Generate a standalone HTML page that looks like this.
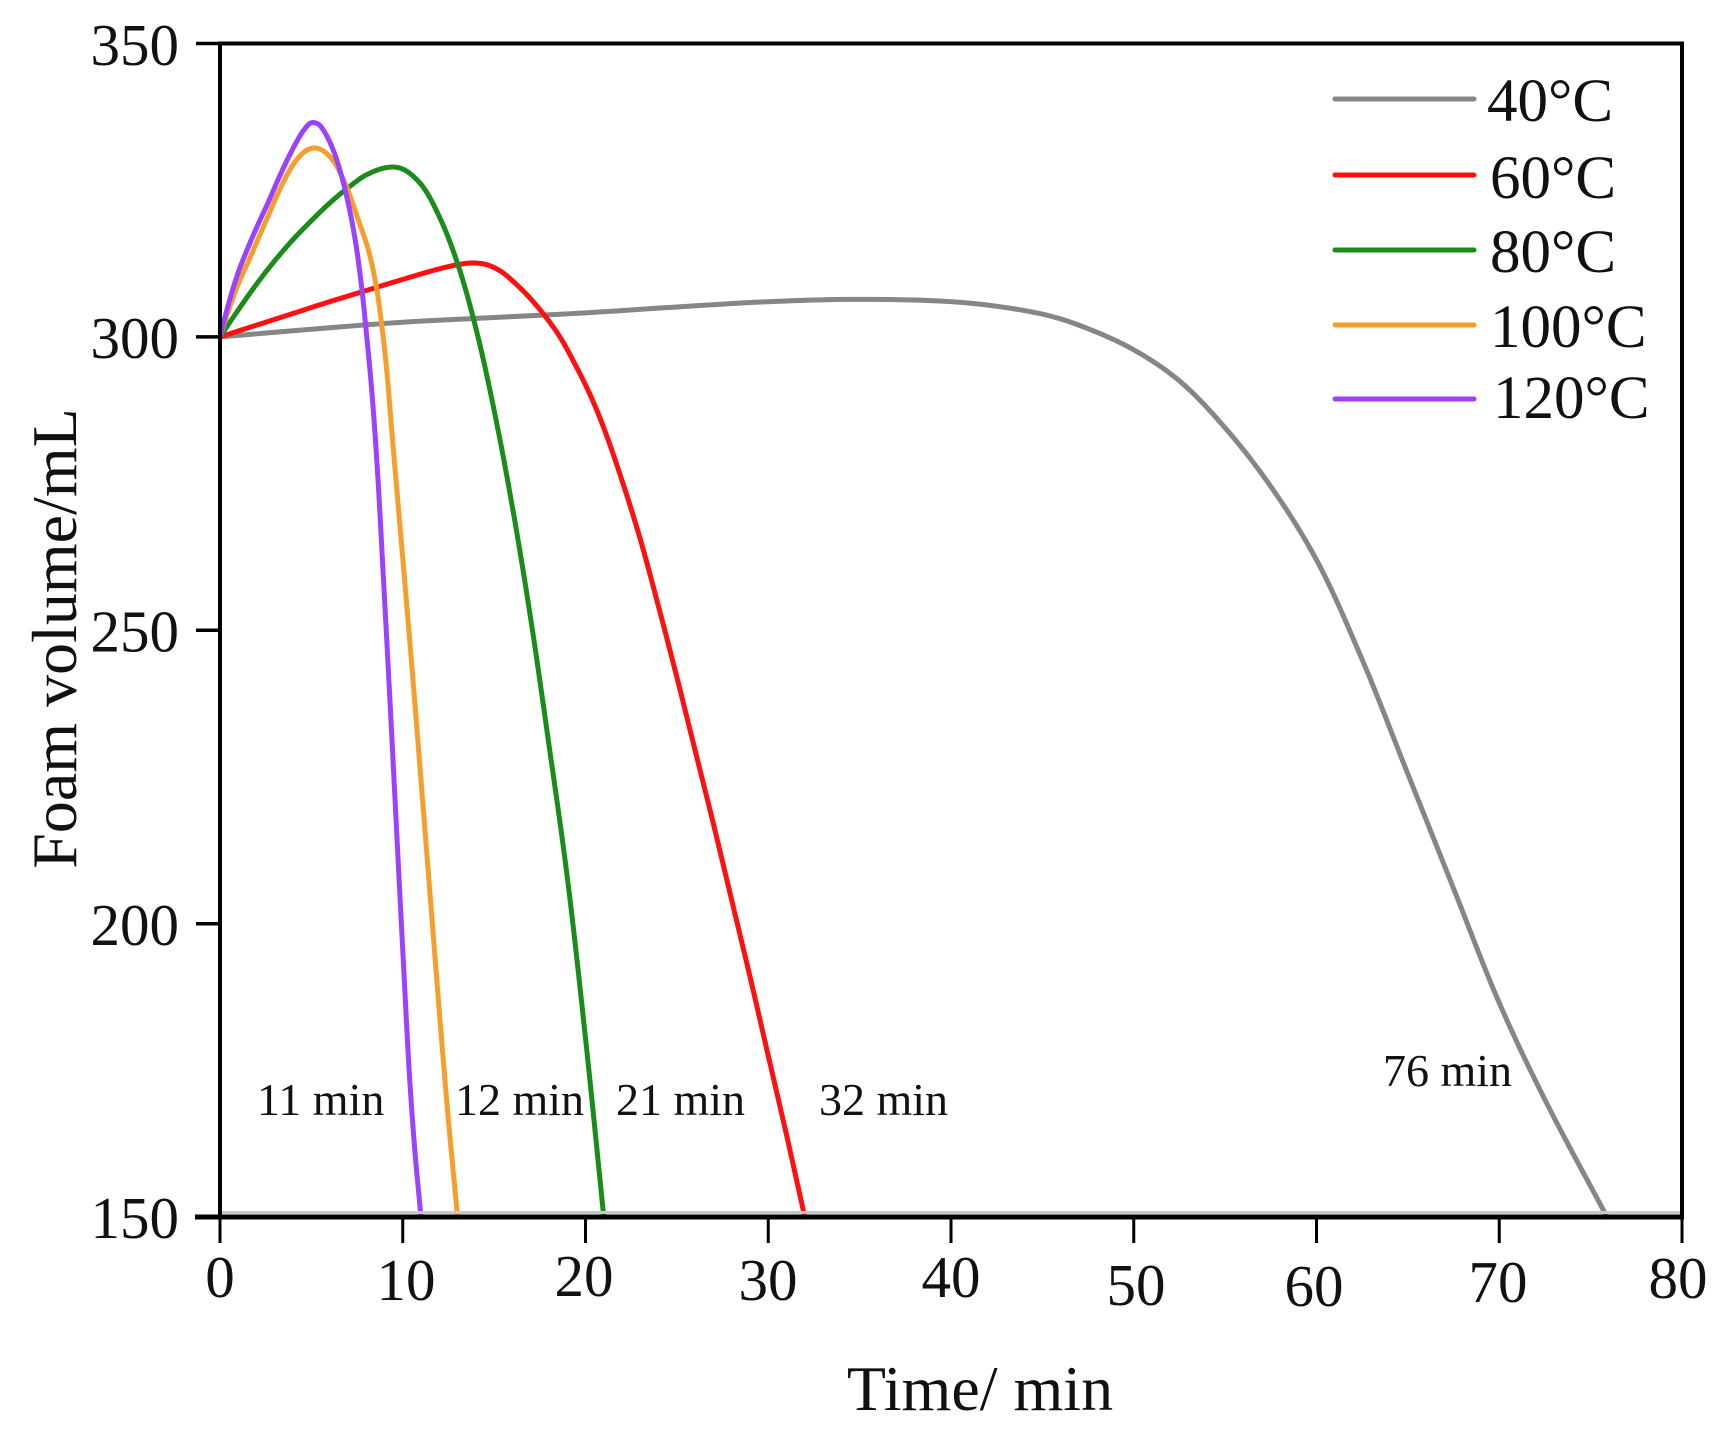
<!DOCTYPE html>
<html>
<head>
<meta charset="utf-8">
<style>
  html,body{margin:0;padding:0;background:#fff;}
  svg{display:block;}
  text{font-family:"Liberation Serif","Times New Roman",serif;fill:#111;}
</style>
</head>
<body>
<svg width="1716" height="1435" viewBox="0 0 1716 1435" xmlns="http://www.w3.org/2000/svg">
  <rect x="0" y="0" width="1716" height="1435" fill="#fff"/>

  <!-- series -->
  <g fill="none" stroke-width="5" stroke-linejoin="round" stroke-linecap="round">
    <polyline id="s40" stroke="#868686" points="220,336.9 300.4,329.9 366.2,324 439.3,319.3 499.6,316.9 640.3,309.9 750,301.7 859.6,299.3 963.8,302.9 1005.8,307.6 1051.5,316.4 1088.1,328.7 1133.8,351.6 1174,380.9 1237.9,442.5 1281.8,504.7 1325.6,578.7 1367.7,676.7 1411.5,786.4 1455.4,897.3 1486.4,980 1534,1079.8 1607.5,1217"/>
    <polyline id="s60" stroke="#ff1010" points="220,336.9 300,311.7 375.3,288.2 440,266.5 472.2,263 490.5,266.5 514.2,285.8 549,314 598.3,403.8 634.8,517.6 655,600 690,725 720,850 750,975 778.3,1100 805,1217"/>
    <polyline id="s80" stroke="#1a8c1a" points="220,336.9 267.9,269.4 302.2,228.3 344.3,186.7 366.2,171.4 388.1,167.3 408.2,176.7 426.5,196.7 440,226.6 474,318.1 499.6,457.2 525.2,600 543.5,725 559.9,850 576.4,975 591,1100 604,1217"/>
    <polyline id="s100" stroke="#f59e2c" points="220,336.9 229.7,307 248.7,261.8 267.9,216.6 287.1,173.2 313.8,148.5 333.3,160 358.3,220 376.7,288.3 386.7,370 406.7,600 426.7,850 446.7,1100 458,1217"/>
    <polyline id="s120" stroke="#9b42ff" points="220,336.9 248.7,250.1 287.1,160.3 311.7,122.7 333.3,150 353.3,230 365,326.7 378,500 396,850 409,1100 420,1217"/>
  </g>

  <!-- axes frame -->
  <g stroke="#000" stroke-width="4" fill="none">
    <line x1="218" y1="43.5" x2="1684" y2="43.5"/>
    <line x1="220" y1="41.5" x2="220" y2="1219"/>
    <line x1="1682" y1="41.5" x2="1682" y2="1219"/>
    <line x1="195" y1="1217" x2="1684" y2="1217" stroke-width="5"/>
  </g>
  <line x1="222" y1="1212.5" x2="1680" y2="1212.5" stroke="#c8c8c8" stroke-width="3"/>

  <!-- y ticks -->
  <g stroke="#000" stroke-width="3.5">
    <line x1="196" y1="43.5" x2="220" y2="43.5"/>
    <line x1="196" y1="336.9" x2="220" y2="336.9"/>
    <line x1="196" y1="630.3" x2="220" y2="630.3"/>
    <line x1="196" y1="923.7" x2="220" y2="923.7"/>
    <line x1="196" y1="1217" x2="220" y2="1217"/>
  </g>
  <!-- x ticks -->
  <g stroke="#000" stroke-width="3">
    <line x1="220" y1="1217" x2="220" y2="1243"/>
    <line x1="402.75" y1="1217" x2="402.75" y2="1243"/>
    <line x1="585.5" y1="1217" x2="585.5" y2="1243"/>
    <line x1="768.25" y1="1217" x2="768.25" y2="1243"/>
    <line x1="951" y1="1217" x2="951" y2="1243"/>
    <line x1="1133.75" y1="1217" x2="1133.75" y2="1243"/>
    <line x1="1316.5" y1="1217" x2="1316.5" y2="1243"/>
    <line x1="1499.25" y1="1217" x2="1499.25" y2="1243"/>
    <line x1="1682" y1="1217" x2="1682" y2="1243"/>
  </g>

  <!-- y tick labels -->
  <g font-size="59" text-anchor="end">
    <text x="179" y="65">350</text>
    <text x="179" y="358">300</text>
    <text x="179" y="651.5">250</text>
    <text x="179" y="945">200</text>
    <text x="179" y="1238">150</text>
  </g>

  <!-- x tick labels -->
  <g font-size="59" text-anchor="middle">
    <text x="220" y="1297">0</text>
    <text x="406" y="1300">10</text>
    <text x="584" y="1296">20</text>
    <text x="768" y="1300">30</text>
    <text x="951" y="1297">40</text>
    <text x="1136" y="1305">50</text>
    <text x="1314" y="1306">60</text>
    <text x="1498" y="1302">70</text>
    <text x="1678" y="1298">80</text>
  </g>

  <!-- axis titles -->
  <text x="980" y="1410" font-size="64" text-anchor="middle">Time/ min</text>
  <text transform="translate(76,638.5) rotate(-90)" font-size="64" text-anchor="middle">Foam volume/mL</text>

  <!-- annotations -->
  <g font-size="46">
    <text x="257" y="1115">11 min</text>
    <text x="455" y="1115">12 min</text>
    <text x="616" y="1115">21 min</text>
    <text x="819" y="1115">32 min</text>
    <text x="1383" y="1086">76 min</text>
  </g>

  <!-- legend -->
  <g stroke-width="5" stroke-linecap="round">
    <line x1="1335" y1="99" x2="1474" y2="99" stroke="#868686"/>
    <line x1="1335" y1="175" x2="1474" y2="175" stroke="#ff1010"/>
    <line x1="1335" y1="250" x2="1474" y2="250" stroke="#1a8c1a"/>
    <line x1="1335" y1="325" x2="1474" y2="325" stroke="#f59e2c"/>
    <line x1="1335" y1="399" x2="1474" y2="399" stroke="#9b42ff"/>
  </g>
  <g font-size="61">
    <text x="1487" y="121">40°C</text>
    <text x="1490" y="198">60°C</text>
    <text x="1490" y="272">80°C</text>
    <text x="1490" y="347">100°C</text>
    <text x="1493" y="418">120°C</text>
  </g>
</svg>
<script>
(function(){
  var data = {
    s40: [[0,300],[5,301.3],[10,302.5],[15,303.3],[20,304.1],[25,305.1],[30,306],[35,306.4],[40,306],[43,305],[45.5,303.5],[47.5,301.4],[50,297.8],[52.5,292.5],[55,284.5],[57.5,274.5],[60,262],[62.5,245],[65,225.5],[67.5,206],[70,186.5],[72.5,170],[75.9,150]],
    s60: [[0,300],[2,302],[4,304],[6,306],[8,307.9],[10,309.8],[12,311.6],[13,312.3],[13.8,312.6],[14.6,312.3],[15.4,311.1],[16.2,309],[17,306.5],[17.8,303.5],[18.6,300],[19.4,295.5],[20.2,290.5],[21,284.5],[22,275.5],[23,265.5],[24,254],[25,242],[26,229.5],[27,217],[28,204],[29,191],[30,177.5],[31,164],[32,150]],
    s80: [[0,300],[1,304.6],[2,309],[3,313],[4,316.6],[5,319.8],[6,322.8],[7,325.4],[8,327.6],[9.2,328.9],[10,328.6],[11,326],[12,320.5],[13,312.5],[14,301.5],[15,287.5],[16,271],[17,252],[18,230.5],[19,208],[20,180.5],[21,150]],
    s100: [[0,300],[0.5,304.8],[1,309],[1.57,313],[2.1,316.8],[2.62,320.5],[3.15,324.3],[3.67,327.6],[4.2,330.2],[4.7,331.7],[5.15,332.2],[5.6,331.8],[6.2,330],[6.8,326.5],[7.2,323.3],[7.57,319.9],[8.12,314.8],[8.57,308.3],[8.85,302],[9.12,294.4],[9.4,284],[9.8,269.5],[10.2,255],[10.6,240],[11.3,212.6],[12.4,170],[13,150]],
    s120: [[0,300],[0.5,306],[1,311],[1.57,315.5],[2.1,319.3],[2.62,322.8],[3.15,326.6],[3.67,330.1],[4.2,333.3],[4.6,335.3],[5.0,336.5],[5.4,336.2],[5.8,334.5],[6.2,331.8],[6.6,328],[7.0,323],[7.4,316.5],[7.75,308.5],[8.0,301],[8.3,291],[8.6,278],[8.94,259],[9.3,238],[9.67,215.5],[10.0,195.5],[10.4,172.5],[10.7,160],[11.0,150]]
  };
  function X(t){return 220+18.275*t;}
  function Y(v){return 43.5+(350-v)*5.868;}
  function tj(ti,a,b){var d=Math.pow(Math.hypot(b[0]-a[0],b[1]-a[1]),0.5);return ti+(d>1e-6?d:1e-3);}
  function lerp(a,b,wa,wb){return [a[0]*wa+b[0]*wb,a[1]*wa+b[1]*wb];}
  function smooth(raw){
    var n=raw.length;
    var pts=[[2*raw[0][0]-raw[1][0],2*raw[0][1]-raw[1][1]]].concat(raw).concat([[2*raw[n-1][0]-raw[n-2][0],2*raw[n-1][1]-raw[n-2][1]]]);
    var out=[raw[0]];
    for(var i=1;i<pts.length-2;i++){
      var P0=pts[i-1],P1=pts[i],P2=pts[i+1],P3=pts[i+2];
      var t0=0,t1=tj(t0,P0,P1),t2=tj(t1,P1,P2),t3=tj(t2,P2,P3);
      var steps=12;
      for(var s=1;s<=steps;s++){
        var t=t1+(t2-t1)*s/steps;
        var A1=lerp(P0,P1,(t1-t)/(t1-t0),(t-t0)/(t1-t0));
        var A2=lerp(P1,P2,(t2-t)/(t2-t1),(t-t1)/(t2-t1));
        var A3=lerp(P2,P3,(t3-t)/(t3-t2),(t-t2)/(t3-t2));
        var B1=lerp(A1,A2,(t2-t)/(t2-t0),(t-t0)/(t2-t0));
        var B2=lerp(A2,A3,(t3-t)/(t3-t1),(t-t1)/(t3-t1));
        out.push(lerp(B1,B2,(t2-t)/(t2-t1),(t-t1)/(t2-t1)));
      }
    }
    return out;
  }
  for(var id in data){
    var el=document.getElementById(id); if(!el) continue;
    var raw=data[id].map(function(p){return [X(p[0]),Y(p[1])];});
    var out=smooth(raw);
    el.setAttribute('points',out.map(function(p){return p[0].toFixed(2)+','+p[1].toFixed(2);}).join(' '));
  }
})();
</script>
</body>
</html>
